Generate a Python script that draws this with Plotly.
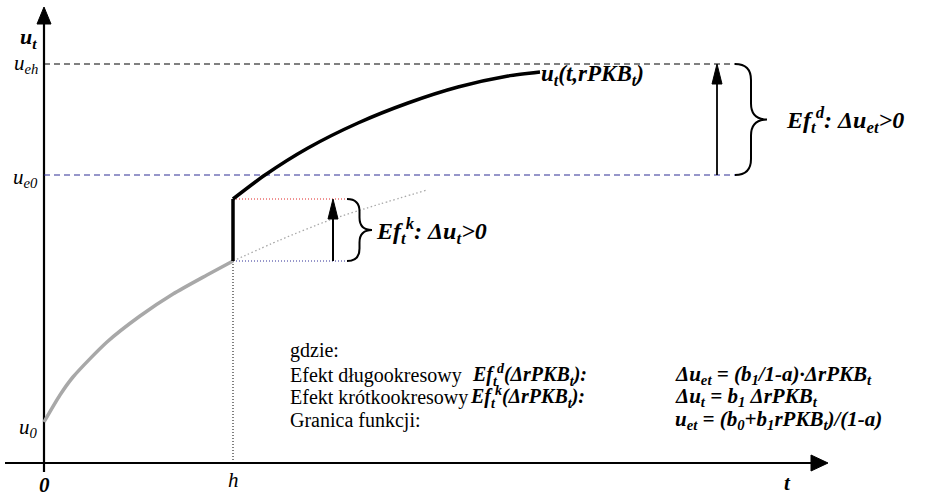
import plotly.graph_objects as go

# ── values (t to the right, u upwards; 1 unit ≈ 1 px) ──
T_LOW = [0, 16, 29, 63, 96, 129, 163, 189]          # grey path before the shock
U_LOW = [41, 68, 86, 121, 147, 169, 188, 202]
T_LOW_CONT = [189, 236, 286, 336, 383]              # grey dotted continuation
U_LOW_CONT = [202, 223, 243, 259, 273]
T_HIGH = [189, 221, 264, 314, 364, 414, 464, 496]   # black path after the shock
U_HIGH = [264, 288, 315, 340, 360, 376, 387, 391]

H = 189          # moment of the shock
U0 = 41
U_E0 = 288
U_EH = 399
LEVEL_END = 691  # where the horizontal dashed limits stop
SHORT_END = 303  # where the short-run dotted lines stop
X_AXIS = [-39, 768]
Y_AXIS = [-9, 440]

SERIF = "Liberation Serif, Times New Roman, serif"
BLUE = "#2f2f96"
RED = "#e02424"
GREY = "#a8a8a8"

fig = go.Figure()


def line(x, y, color="black", width=1.0, dash="solid", shape="linear"):
    fig.add_trace(go.Scatter(x=x, y=y, mode="lines", hoverinfo="skip",
                             line=dict(color=color, width=width, dash=dash, shape=shape,
                                       smoothing=0.7 if shape == "spline" else None)))


def head(x, y, direction, length=18, half=5):
    """Filled triangular arrow head built around the tip (x, y)."""
    if direction == "up":
        path = f"M{x - half},{y - length} L{x},{y} L{x + half},{y - length} Z"
    else:
        path = f"M{x - length},{y - half} L{x},{y} L{x - length},{y + half} Z"
    fig.add_shape(type="path", path=path, xref="x", yref="y",
                  fillcolor="black", line=dict(color="black", width=1))


def brace(x0, y_bot, y_top, w):
    xm = x0 + w / 2
    ym = (y_bot + y_top) / 2
    r = w / 2
    path = (f"M{x0},{y_top} Q{xm},{y_top} {xm},{y_top - r} L{xm},{ym + r} "
            f"Q{xm},{ym} {x0 + w},{ym} Q{xm},{ym} {xm},{ym - r} "
            f"L{xm},{y_bot + r} Q{xm},{y_bot} {x0},{y_bot}")
    fig.add_shape(type="path", path=path, xref="x", yref="y",
                  line=dict(color="black", width=2))


def label(x, y, text, size=20, anchor="left"):
    fig.add_annotation(x=x, y=y, text=text, showarrow=False, xanchor=anchor,
                       yanchor="middle", borderpad=0,
                       font=dict(family=SERIF, size=size, color="black"))


# axes
line(X_AXIS, [0, 0], width=2.2)
line([0, 0], Y_AXIS, width=2.2)
head(X_AXIS[1] + 16, 0, "right", length=17, half=8)
head(0, Y_AXIS[1] + 16, "up", length=17, half=7)

# limit levels
line([0, LEVEL_END], [U_EH, U_EH], width=1, dash="6px,4px")
line([0, LEVEL_END], [U_E0, U_E0], color=BLUE, width=1.2, dash="6px,4px")

# short-run jump guides
line([H, SHORT_END], [U_HIGH[0], U_HIGH[0]], color=RED, width=1, dash="1px,2px")
line([H, SHORT_END], [U_LOW[-1], U_LOW[-1]], color=BLUE, width=1, dash="1px,2px")
line([H, H], [0, U_LOW[-1]], width=1, dash="1px,2px")

# paths
line(T_LOW_CONT, U_LOW_CONT, color=GREY, width=1.3, dash="1.5px,2.5px", shape="spline")
line(T_LOW, U_LOW, color=GREY, width=3.5, shape="spline")
line(T_HIGH, U_HIGH, width=3.5, shape="spline")
line([H, H], [U_LOW[-1], U_HIGH[0]], width=3.5)

# short-run effect arrow + brace
line([289, 289], [U_LOW[-1], U_HIGH[0] - 16], width=2)
head(289, U_HIGH[0], "up", length=20, half=5)
brace(SHORT_END, U_LOW[-1], U_HIGH[0], 25)

# long-run effect arrow + brace
line([673, 673], [U_E0, U_EH - 16], width=1.8)
head(673, U_EH, "up", length=20, half=5)
brace(LEVEL_END, U_E0, U_EH, 32)

# axis labels
label(-16, 425, "<b><i>u<sub>t</sub></i></b>", size=22, anchor="center")
label(-5, U_EH, "<i>u<sub>eh</sub></i>", size=21, anchor="right")
label(-5, U_E0 - 3, "<i>u<sub>e0</sub></i>", size=21, anchor="right")
label(-5, U0 - 6, "<i>u<sub>0</sub></i>", size=21, anchor="right")
label(0, -22, "<b><i>0</i></b>", size=21, anchor="center")
label(H, -17, "<i>h</i>", size=21, anchor="center")
label(743, -20, "<b><i>t</i></b>", size=21, anchor="center")

# curve and effect labels
label(496, 388, "<b><i>u<sub>t</sub>(t,rPKB<sub>t</sub>)</i></b>", size=23)
label(741, 343, "<b><i>Ef<sub>t</sub><sup>d</sup>: Δu<sub>et</sub>&gt;0</i></b>", size=24)
label(331, 232, "<b><i>Ef<sub>t</sub><sup>k</sup>: Δu<sub>t</sub>&gt;0</i></b>", size=24)

# legend text block
label(245, 113, "gdzie:")
label(245, 88, "Efekt długookresowy")
label(245, 66, "Efekt krótkookresowy")
label(245, 43, "Granica funkcji:")
label(427, 88, "<b><i>Ef<sub>t</sub><sup>d</sup>(ΔrPKB<sub>t</sub>):</i></b>", size=20)
label(425, 66, "<b><i>Ef<sub>t</sub><sup>k</sup>(ΔrPKB<sub>t</sub>):</i></b>", size=20)
label(630, 88, "<b><i>Δu<sub>et</sub> = (b<sub>1</sub>/1-a)·ΔrPKB<sub>t</sub></i></b>", size=21)
label(630, 66, "<b><i>Δu<sub>t</sub> = b<sub>1</sub> ΔrPKB<sub>t</sub></i></b>", size=21)
label(630, 43, "<b><i>u<sub>et</sub> = (b<sub>0</sub>+b<sub>1</sub>rPKB<sub>t</sub>)/(1-a)</i></b>", size=21)

fig.update_layout(
    width=940, height=496,
    margin=dict(l=0, r=0, t=0, b=0),
    paper_bgcolor="white", plot_bgcolor="white",
    showlegend=False,
    xaxis=dict(range=[-44, 896], visible=False, fixedrange=True),
    yaxis=dict(range=[-33, 463], visible=False, fixedrange=True),
)

fig.write_html("out.html", config={"displayModeBar": False},
               post_script="document.body.style.margin='0px';")
